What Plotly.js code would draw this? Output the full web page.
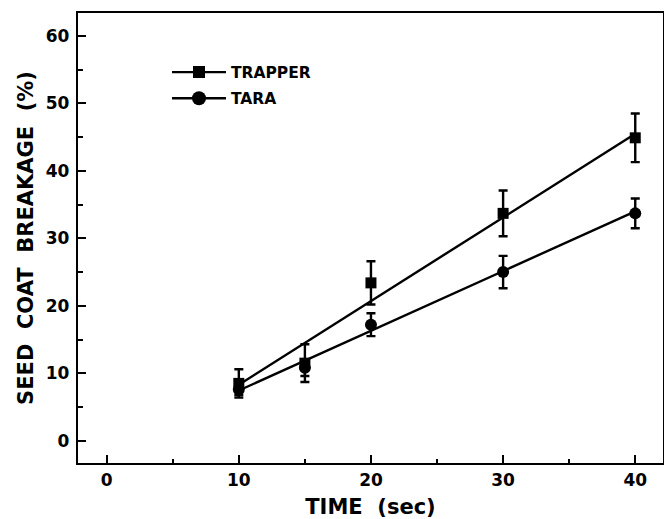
<!DOCTYPE html>
<html>
<head>
<meta charset="utf-8">
<script src="https://cdn.plot.ly/plotly-3.0.1.min.js"></script>
<style>html,body{margin:0;padding:0;background:#fff;}#chart{width:664px;height:519px;}</style>
</head>
<body>
<div id="chart"></div>
<script>
// Measured data (time in sec, seed coat breakage in %)
var timeX = [10, 15, 20, 30, 40];
var trapperY = [8.5, 11.5, 23.4, 33.7, 44.9];
var trapperErr = [2.1, 2.8, 3.2, 3.4, 3.6];
var taraY = [7.6, 10.8, 17.2, 25.0, 33.7];
var taraErr = [0.8, 1.2, 1.7, 2.4, 2.2];
// Fitted regression lines (end points)
var fitX = [10, 40];
var trapperFit = [8.3, 45.5];
var taraFit = [7.45, 34.0];
var seriesNames = ['TRAPPER', 'TARA'];

var FONT = 'DejaVu Sans, Verdana, sans-serif';
var black = '#000';

var traces = [
  {x: fitX, y: trapperFit, mode: 'lines', line: {color: black, width: 2.4}, showlegend: false, hoverinfo: 'skip'},
  {x: fitX, y: taraFit, mode: 'lines', line: {color: black, width: 2.4}, showlegend: false, hoverinfo: 'skip'},
  {x: timeX, y: trapperY, mode: 'markers', marker: {symbol: 'square', size: 11, color: black},
   error_y: {type: 'data', array: trapperErr, visible: true, color: black, thickness: 2.4, width: 4.5}, showlegend: false},
  {x: timeX, y: taraY, mode: 'markers', marker: {symbol: 'circle', size: 12, color: black},
   error_y: {type: 'data', array: taraErr, visible: true, color: black, thickness: 2.4, width: 4.5}, showlegend: false},
  {x: [null], y: [null], name: seriesNames[0], mode: 'lines+markers', legendgroup: 'a',
   line: {color: black, width: 2.4}, marker: {symbol: 'square', size: 12, color: black}},
  {x: [null], y: [null], name: seriesNames[1], mode: 'lines+markers', legendgroup: 'b',
   line: {color: black, width: 2.4}, marker: {symbol: 'circle', size: 14, color: black}}
];

var axisCommon = {
  showline: true, linewidth: 2.2, linecolor: black, mirror: true,
  ticks: 'inside', ticklen: 8, tickwidth: 2, tickcolor: black,
  showgrid: false, zeroline: false,
  tickfont: {family: FONT, size: 17, color: black, weight: 'bold'}
};

var layout = {
  width: 664, height: 519,
  margin: {l: 78, r: 1, t: 13, b: 56},
  paper_bgcolor: '#fff', plot_bgcolor: '#fff',
  showlegend: true,
  legend: {x: (167 - 78) / 585, y: 1 - (55.5 - 13) / 450, xanchor: 'left', yanchor: 'top',
    font: {family: FONT, size: 15.5, color: black, weight: 'bold'},
    bgcolor: 'rgba(0,0,0,0)', borderwidth: 0, tracegroupgap: 3, itemwidth: 54},
  xaxis: Object.assign({}, axisCommon, {
    range: [-2.17, 42.1], tickvals: [0, 10, 20, 30, 40],
    minor: {tickvals: [5, 15, 25, 35], ticks: 'inside', ticklen: 4, tickwidth: 2, tickcolor: black},
    title: {text: 'TIME  (sec)', font: {family: FONT, size: 21, color: black, weight: 'bold'}, standoff: 12}
  }),
  yaxis: Object.assign({}, axisCommon, {
    range: [-3.3, 63.4], tickvals: [0, 10, 20, 30, 40, 50, 60],
    minor: {tickvals: [5, 15, 25, 35, 45, 55], ticks: 'inside', ticklen: 5, tickwidth: 2, tickcolor: black},
    ticklabelstandoff: 3,
    title: {text: 'SEED  COAT  BREAKAGE  (%)', font: {family: FONT, size: 21, color: black, weight: 'bold'}, standoff: 6}
  })
};

Plotly.newPlot('chart', traces, layout, {displayModeBar: false, staticPlot: true});
</script>
</body>
</html>
